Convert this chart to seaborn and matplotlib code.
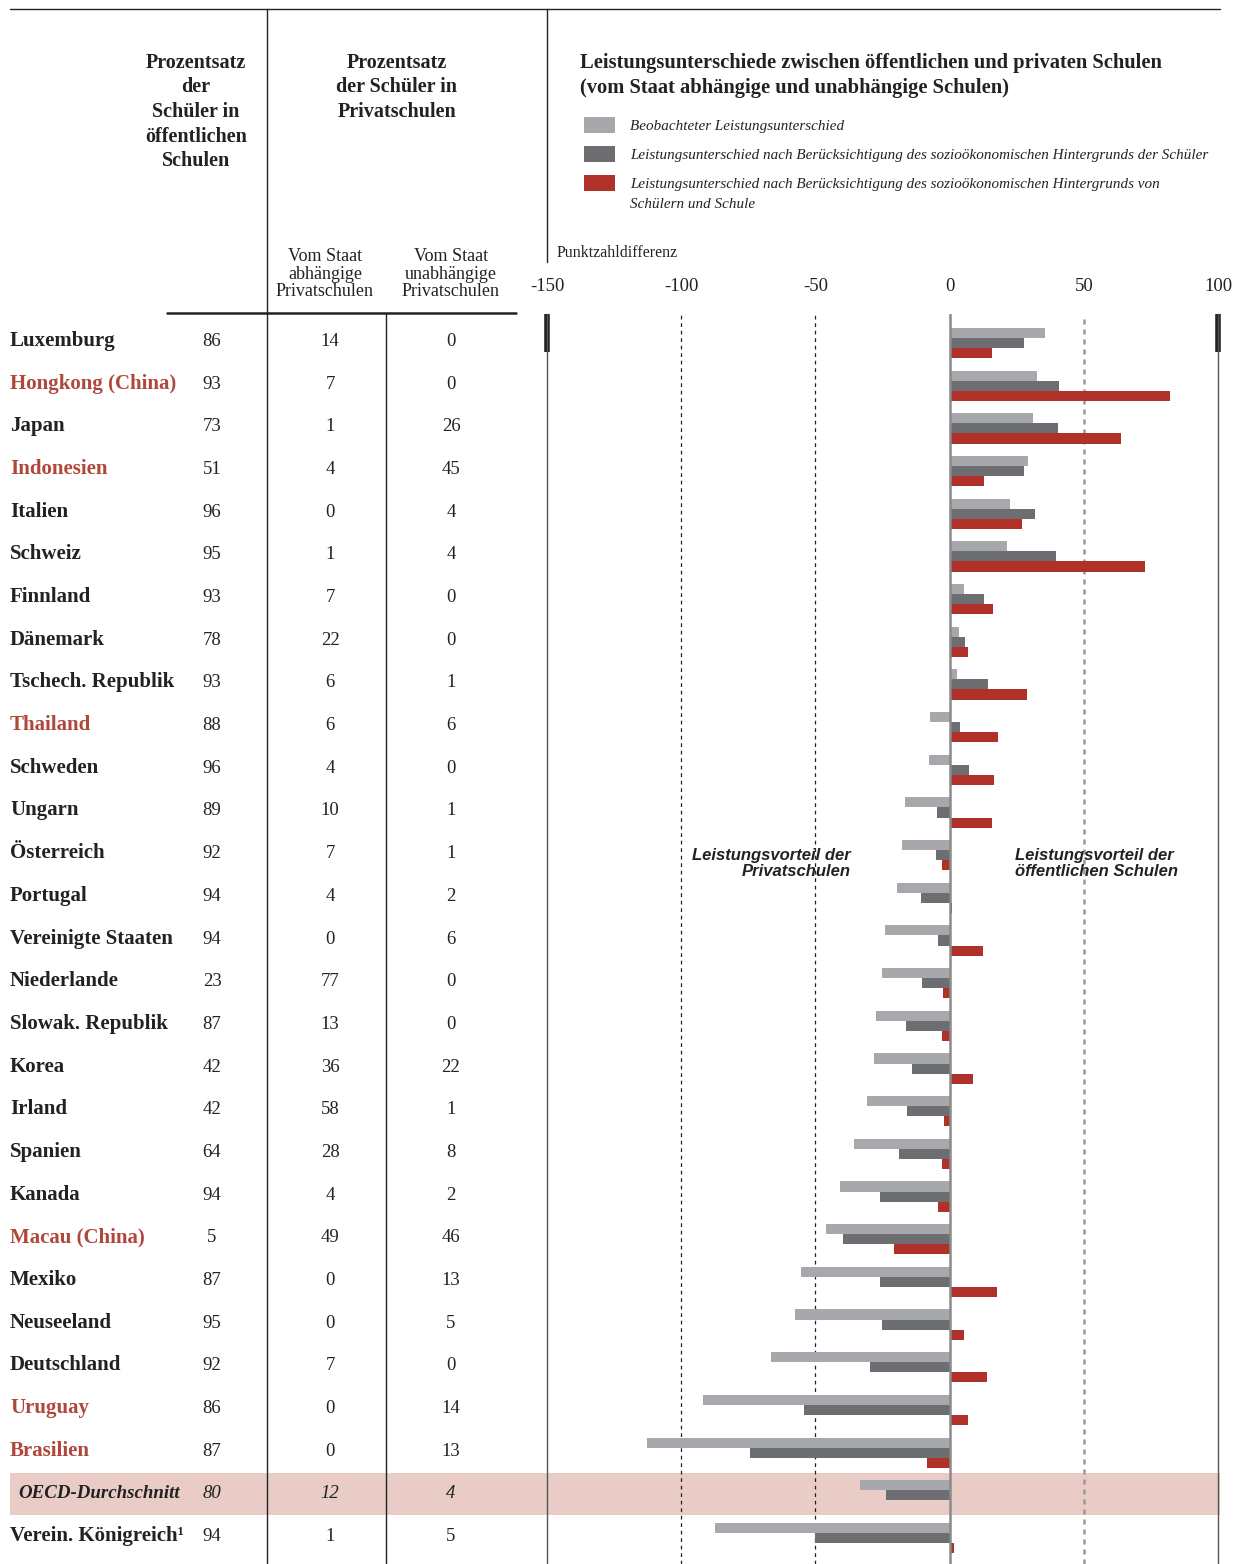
import numpy as np
import pandas as pd
import seaborn as sns
import matplotlib.pyplot as plt
from matplotlib.patches import Rectangle

# Data
countries = ["Luxemburg", "Hongkong (China)", "Japan", "Indonesien", "Italien", "Schweiz",
             "Finnland", "Dänemark", "Tschech. Republik", "Thailand", "Schweden", "Ungarn",
             "Österreich", "Portugal", "Vereinigte Staaten", "Niederlande", "Slowak. Republik",
             "Korea", "Irland", "Spanien", "Kanada", "Macau (China)", "Mexiko", "Neuseeland",
             "Deutschland", "Uruguay", "Brasilien", "OECD-Durchschnitt", "Verein. Königreich¹"]
partner = ["Hongkong (China)", "Indonesien", "Thailand", "Macau (China)", "Uruguay", "Brasilien"]
pct_public = [86, 93, 73, 51, 96, 95, 93, 78, 93, 88, 96, 89, 92, 94, 94, 23, 87, 42, 42, 64,
              94, 5, 87, 95, 92, 86, 87, 80, 94]
pct_dependent = [14, 7, 1, 4, 0, 1, 7, 22, 6, 6, 4, 10, 7, 4, 0, 77, 13, 36, 58, 28,
                 4, 49, 0, 0, 7, 0, 0, 12, 1]
pct_independent = [0, 0, 26, 45, 4, 4, 0, 0, 1, 6, 0, 1, 1, 2, 6, 0, 0, 22, 1, 8,
                   2, 46, 13, 5, 0, 14, 13, 4, 5]
observed = [35.5, 32.5, 31.1, 29.1, 22.5, 21.3, 5.3, 3.6, 2.8, -7.4, -7.8, -16.7, -17.8, -19.7,
            -24.1, -25.3, -27.6, -28.2, -30.9, -35.7, -41.0, -46.1, -55.2, -57.6, -66.7,
            -92.0, -112.8, -33.5, -87.5]
adj_students = [27.6, 40.6, 40.3, 27.6, 31.7, 39.5, 13.0, 5.6, 14.2, 3.8, 7.4, -4.8, -5.1, -10.7,
                -4.5, -10.4, -16.4, -14.0, -16.0, -18.7, -26.1, -39.8, -26.1, -25.3, -29.7,
                -54.3, -74.2, -23.8, -50.2]
adj_schools = [15.7, 82.1, 63.8, 13.0, 26.9, 72.7, 16.0, 6.8, 28.7, 18.0, 16.5, 15.7, -3.0, 0.8,
               12.4, -2.6, -3.0, 8.9, -2.1, -3.0, -4.5, -20.8, 17.5, 5.3, 13.9, 6.8, -8.6,
               0.3, 1.5]
measures = ["Beobachteter Leistungsunterschied",
            "Leistungsunterschied nach Berücksichtigung des sozioökonomischen Hintergrunds der Schüler",
            "Leistungsunterschied nach Berücksichtigung des sozioökonomischen Hintergrunds von\nSchülern und Schule"]
ticks = [-150, -100, -50, 0, 50, 100]

colors = ["#a7a8ab", "#6d6e71", "#b0302a"]
red_text = "#b0473b"
band = "#e8ccc5"
ink = "#222222"

df = pd.DataFrame({"country": countries * 3,
                   "measure": np.repeat(measures, len(countries)),
                   "value": observed + adj_students + adj_schools})

sns.set_style("white")
plt.rcParams["font.family"] = ["Liberation Serif", "DejaVu Serif"]

W, H = 1235, 1564
fig = plt.figure(figsize=(W / 100, H / 100), dpi=100)

# overlay in pixel coordinates for the table and header
ov = fig.add_axes([0, 0, 1, 1], zorder=0)
ov.set_xlim(0, W)
ov.set_ylim(H, 0)
ov.axis("off")

row0, step = 343, 42.68
oecd = countries.index("OECD-Durchschnitt")
yb = row0 + step * oecd
ov.add_patch(Rectangle((10, yb - 22), 1210, 42, color=band, lw=0))

# frame lines
ov.plot([10, 1220], [9, 9], color=ink, lw=1)
ov.plot([267, 267], [9, H], color=ink, lw=1)
ov.plot([547, 547], [9, 262], color=ink, lw=1)
ov.plot([386, 386], [314, H], color=ink, lw=1)
ov.plot([167, 516], [313, 313], color=ink, lw=1.8)
for xx in (547, 1218):
    ov.plot([xx, xx], [314, 352], color=ink, lw=4, solid_capstyle="butt")

# headers
ov.text(196, 53, "Prozentsatz\nder\nSchüler in\nöffentlichen\nSchulen", ha="center", va="top",
        fontsize=14.5, fontweight="bold", linespacing=1.3, color=ink)
ov.text(397, 53, "Prozentsatz\nder Schüler in\nPrivatschulen", ha="center", va="top",
        fontsize=14.5, fontweight="bold", linespacing=1.3, color=ink)
ov.text(325, 248, "Vom Staat\nabhängige\nPrivatschulen", ha="center", va="top",
        fontsize=13, linespacing=1.05, color=ink)
ov.text(451, 248, "Vom Staat\nunabhängige\nPrivatschulen", ha="center", va="top",
        fontsize=13, linespacing=1.05, color=ink)
ov.text(580, 53, "Leistungsunterschiede zwischen öffentlichen und privaten Schulen\n"
        "(vom Staat abhängige und unabhängige Schulen)", ha="left", va="top",
        fontsize=14.8, fontweight="bold", linespacing=1.35, color=ink)
leg_y = [125, 154, 183]
for lab, c, y in zip(measures, colors, leg_y):
    ov.add_patch(Rectangle((584, y - 8), 31, 16, color=c, lw=0))
    ov.text(630, y - 5, lab, ha="left", va="top", fontsize=10.9, style="italic",
            color=ink, linespacing=1.7)
ov.text(557, 253, "Punktzahldifferenz", ha="left", va="center", fontsize=11.5, color=ink)

# table rows
for i, name in enumerate(countries):
    y = row0 + step * i + 3
    it = name == "OECD-Durchschnitt"
    col = red_text if name in partner else ink
    ov.text(18 if it else 10, y, name, ha="left", va="baseline", fontsize=13.6 if it else 15,
            fontweight="bold", style="italic" if it else "normal", color=col)
    for xx, v in zip((212, 330, 451), (pct_public[i], pct_dependent[i], pct_independent[i])):
        ov.text(xx, y, str(v), ha="center", va="baseline", fontsize=13.5,
                style="italic" if it else "normal", color=ink)

# bar chart
ax = fig.add_axes([547 / W, 0, (1218 - 547) / W, (H - 314) / H], zorder=1)
ax.set_facecolor("none")
sns.barplot(data=df, y="country", x="value", hue="measure", order=countries,
            hue_order=measures, palette=colors, orient="h", width=0.71,
            saturation=1, legend=False, linewidth=0, ax=ax, zorder=3)
ax.set_xlim(-150, 100)
ax.set_ylim((H - row0) / step, -(row0 - 314) / step)
ax.axvline(0, color="#8a8a8a", lw=1.8, zorder=4)
ax.axvline(-100, color=ink, lw=0.9, ls=(0, (3, 3)), zorder=1)
ax.axvline(-50, color=ink, lw=0.9, ls=(0, (3, 3)), zorder=1)
ax.axvline(50, color="#999", lw=1.8, ls=(0, (2, 2)), zorder=1)
ax.xaxis.tick_top()
ax.set_xticks(ticks, [str(t) for t in ticks])
ax.tick_params(axis="x", length=0, pad=13.5, labelsize=13.5, labelcolor=ink)
ax.set_yticks([])
ax.set_xlabel("")
ax.set_ylabel("")
for s in ("top", "bottom"):
    ax.spines[s].set_visible(False)
for s in ("left", "right"):
    ax.spines[s].set_color("#555")
    ax.spines[s].set_linewidth(1)

ax.text(-37, 12.2, "Leistungsvorteil der\nPrivatschulen", ha="right", va="center",
        fontsize=12, fontweight="bold", style="italic", family="Liberation Sans",
        color=ink, linespacing=1.1, zorder=5)
ax.text(24.5, 12.2, "Leistungsvorteil der\nöffentlichen Schulen", ha="left", va="center",
        fontsize=12, fontweight="bold", style="italic", family="Liberation Sans",
        color=ink, linespacing=1.1, zorder=5)

fig.savefig("out.png", dpi=100)
